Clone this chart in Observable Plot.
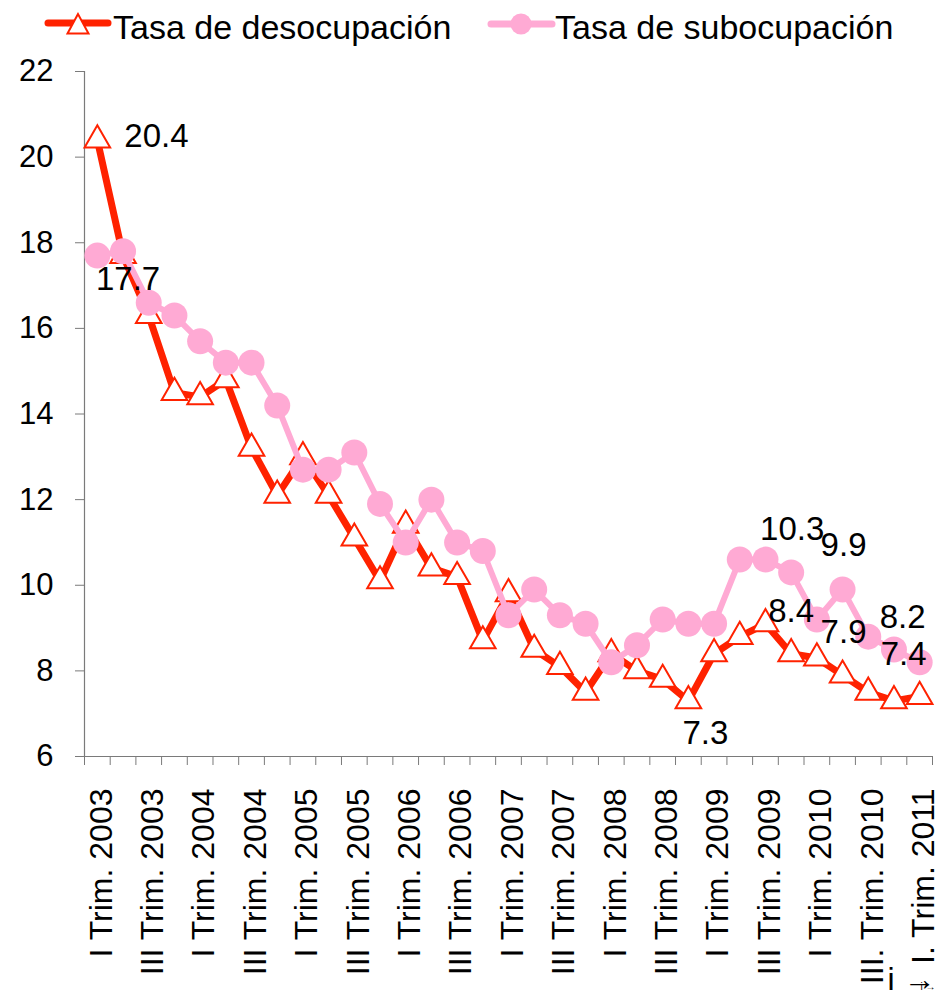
<!DOCTYPE html>
<html>
<head>
<meta charset="utf-8">
<script src="https://cdn.jsdelivr.net/npm/d3@7"></script>
<script src="https://cdn.jsdelivr.net/npm/@observablehq/plot@0.6"></script>
<style>
  html, body { margin: 0; padding: 0; background: #fff; }
  #wrap { width: 938px; font-family: "Liberation Sans", Arial, sans-serif; }
  #legend { display: block; }
</style>
</head>
<body>
<div id="wrap">
  <svg id="legend" width="938" height="55" xmlns="http://www.w3.org/2000/svg">
    <line x1="48" y1="23" x2="108" y2="23" stroke="#ff2200" stroke-width="7" stroke-linecap="round"/>
    <polygon points="78,14 67.5,33.5 88.5,33.5" fill="#fff" stroke="#ff2200" stroke-width="2"/>
    <text x="113" y="39" font-family="Liberation Sans, Arial, sans-serif" font-size="34" fill="#000">Tasa de desocupación</text>
    <line x1="491" y1="24" x2="552" y2="24" stroke="#ffaad4" stroke-width="7" stroke-linecap="round"/>
    <circle cx="521" cy="24" r="10.5" fill="#ffaad4"/>
    <text x="555" y="39" font-family="Liberation Sans, Arial, sans-serif" font-size="34" fill="#000">Tasa de subocupación</text>
  </svg>
  <div id="chart"></div>
</div>
<script>
// Quarter categories
const quarters = [
  "I Trim. 2003","II Trim. 2003","III Trim. 2003","IV Trim. 2003",
  "I Trim. 2004","II Trim. 2004","III Trim. 2004","IV Trim. 2004",
  "I Trim. 2005","II Trim. 2005","III Trim. 2005","IV Trim. 2005",
  "I Trim. 2006","II Trim. 2006","III Trim. 2006","IV Trim. 2006",
  "I Trim. 2007","II Trim. 2007","III Trim. 2007","IV Trim. 2007",
  "I Trim. 2008","II Trim. 2008","III Trim. 2008","IV Trim. 2008",
  "I Trim. 2009","II Trim. 2009","III Trim. 2009","IV Trim. 2009",
  "I Trim. 2010","II Trim. 2010","III. Trim. 2010","IV. Trim. 2010",
  "I. Trim. 2011"
];
// Tasa de desocupación
const desocupacion = [20.4, 17.7, 16.3, 14.5, 14.4, 14.8, 13.2, 12.1, 13.0, 12.1, 11.1, 10.1,
  11.4, 10.4, 10.2, 8.7, 9.8, 8.5, 8.1, 7.5, 8.4, 8.0, 7.8, 7.3, 8.4, 8.8, 9.1, 8.4, 8.3, 7.9, 7.5, 7.3, 7.4];
// Tasa de subocupación
const subocupacion = [17.7, 17.8, 16.6, 16.3, 15.7, 15.2, 15.2, 14.2, 12.7, 12.7, 13.1, 11.9,
  11.0, 12.0, 11.0, 10.8, 9.3, 9.9, 9.3, 9.1, 8.2, 8.6, 9.2, 9.1, 9.1, 10.6, 10.6, 10.3, 9.2, 9.9, 8.8, 8.5, 8.2];
// Y axis ticks
const yTicks = [6, 8, 10, 12, 14, 16, 18, 20, 22];
// Labeled points (indices into the quarters)
const desocLabelIdx = [0, 1, 23, 27, 29, 32];
const subocLabelIdx = [27, 29, 32];

const RED = "#ff2200", PINK = "#ffaad4", AXIS = "#7a7a7a";
const FONT = "Liberation Sans, Arial, sans-serif";

const rows = quarters.map((q, i) => ({i, q, desoc: desocupacion[i], suboc: subocupacion[i]}));
const xDomain = [-0.5, quarters.length - 0.5];
const yDomain = [yTicks[0], yTicks[yTicks.length - 1]];

// label placement offsets (style, not data)
const desocOffsets = {0: {dx: 27, dy: -4, anchor: "start"}, 1: {dx: 5, dy: 24}, 23: {dx: 17, dy: 33},
  27: {dx: 0, dy: -42}, 29: {dx: 1, dy: -43}, 32: {dx: -16, dy: -42}};
const subocOffsets = {27: {dx: 1, dy: -43}, 29: {dx: 1, dy: -44}, 32: {dx: -17, dy: -45}};

function labelMarks(idxs, key, offsets) {
  return idxs.map(k => {
    const o = offsets[k] || {dx: 0, dy: 0};
    return Plot.text([rows[k]], {
      x: "i", y: key, text: d => d[key].toFixed(1),
      dx: o.dx, dy: o.dy, textAnchor: o.anchor || "middle",
      fontSize: 33, fill: "#000", fontFamily: FONT
    });
  });
}

const chart = Plot.plot({
  width: 938,
  height: 937,
  marginTop: 16,
  marginBottom: 236,
  marginLeft: 84,
  marginRight: 6,
  style: {fontFamily: FONT, background: "#fff", overflow: "visible"},
  x: {type: "linear", domain: xDomain, axis: null},
  y: {domain: yDomain, axis: null},
  marks: [
    Plot.axisY({ticks: yTicks, tickSize: 9, tickPadding: 22, fontSize: 31, stroke: AXIS, fill: "#000", tickFormat: d => String(d)}),
    Plot.axisX({ticks: d3.range(quarters.length + 1).map(k => k - 0.5), tickSize: 9, tickFormat: () => "", stroke: AXIS}),
    Plot.axisX({ticks: d3.range(0, quarters.length, 2), tickSize: 0, tickPadding: 32, tickRotate: -90,
      tickFormat: i => quarters[i], fontSize: 32, fill: "#000", dx: 4}),
    Plot.ruleX([xDomain[0]], {stroke: AXIS, strokeWidth: 1.2}),
    Plot.ruleY([yDomain[0]], {stroke: AXIS, strokeWidth: 1.2}),
    Plot.line(rows, {x: "i", y: "desoc", stroke: RED, strokeWidth: 7, strokeLinejoin: "round"}),
    Plot.dot(rows, {x: "i", y: "desoc", symbol: "triangle", r: 9.5, fill: "#fff", stroke: RED, strokeWidth: 2}),
    Plot.line(rows, {x: "i", y: "suboc", stroke: PINK, strokeWidth: 6, strokeLinejoin: "round"}),
    Plot.dot(rows, {x: "i", y: "suboc", r: 13, fill: PINK, stroke: "none"}),
    ...labelMarks(desocLabelIdx, "desoc", desocOffsets),
    ...labelMarks(subocLabelIdx, "suboc", subocOffsets)
  ]
});
document.getElementById("chart").appendChild(chart);
</script>
</body>
</html>
